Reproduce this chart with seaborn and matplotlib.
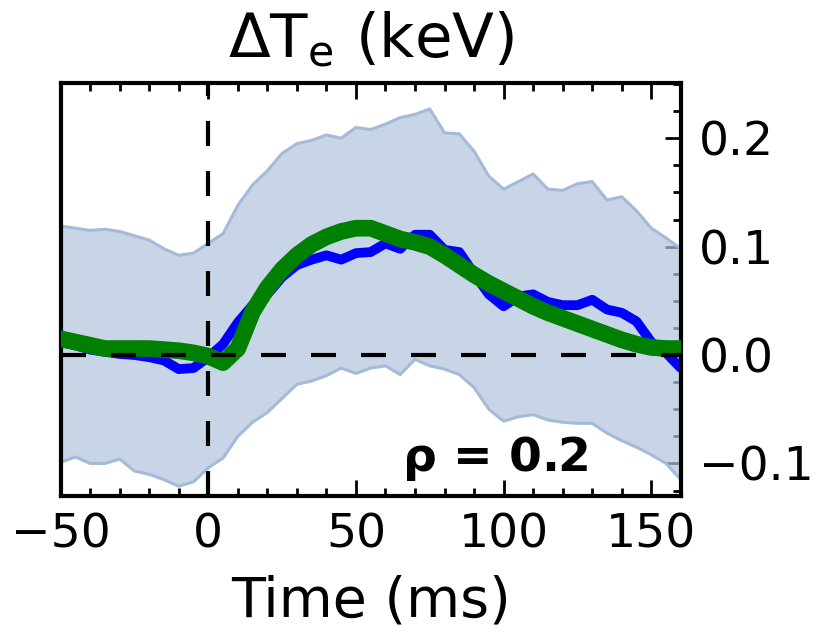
import matplotlib
matplotlib.use("Agg")
import matplotlib.pyplot as plt
from matplotlib.ticker import MultipleLocator
import numpy as np
import pandas as pd
import seaborn as sns

# ---- data ----
time_ms = [-50, -45, -40, -35, -30, -25, -20, -15, -10, -5, 0, 5, 10, 15, 20, 25, 30, 35,
           40, 45, 50, 55, 60, 65, 70, 75, 80, 85, 90, 95, 100, 105, 110, 115, 120, 125,
           130, 135, 140, 145, 150, 155, 160]
band_upper = [0.119, 0.117, 0.115, 0.116, 0.114, 0.110, 0.106, 0.098, 0.092, 0.094, 0.103,
              0.112, 0.138, 0.157, 0.170, 0.186, 0.195, 0.198, 0.203, 0.200, 0.210, 0.208,
              0.213, 0.219, 0.222, 0.227, 0.205, 0.204, 0.188, 0.165, 0.153, 0.160, 0.167,
              0.153, 0.152, 0.158, 0.160, 0.143, 0.146, 0.133, 0.117, 0.108, 0.098]
band_lower = [-0.099, -0.094, -0.100, -0.100, -0.096, -0.107, -0.110, -0.115, -0.121, -0.117,
              -0.104, -0.095, -0.075, -0.062, -0.053, -0.040, -0.027, -0.024, -0.019, -0.012,
              -0.017, -0.012, -0.010, -0.018, -0.004, -0.010, -0.013, -0.018, -0.030, -0.050,
              -0.061, -0.057, -0.055, -0.060, -0.062, -0.063, -0.063, -0.072, -0.079, -0.085,
              -0.092, -0.100, -0.115]
mean_dTe = [0.012, 0.009, 0.005, 0.003, 0.001, 0.000, -0.002, -0.005, -0.013, -0.012, -0.002,
            0.010, 0.030, 0.046, 0.056, 0.072, 0.083, 0.088, 0.092, 0.088, 0.094, 0.095,
            0.103, 0.098, 0.111, 0.111, 0.097, 0.095, 0.075, 0.056, 0.045, 0.054, 0.056,
            0.049, 0.046, 0.046, 0.051, 0.042, 0.039, 0.031, 0.012, 0.002, -0.012]
fit_dTe = [0.015, 0.012, 0.009, 0.006, 0.006, 0.006, 0.006, 0.005, 0.004, 0.002, -0.001,
           -0.007, 0.006, 0.040, 0.062, 0.079, 0.092, 0.102, 0.109, 0.114, 0.117, 0.117,
           0.112, 0.107, 0.104, 0.100, 0.092, 0.083, 0.074, 0.066, 0.059, 0.052, 0.045,
           0.039, 0.034, 0.029, 0.024, 0.019, 0.014, 0.010, 0.007, 0.006, 0.006]
x_ticks = [-50, 0, 50, 100, 150]
y_ticks = [-0.1, 0.0, 0.1, 0.2]
rho_text = r"$\mathbf{\rho}$ = 0.2"

df = pd.DataFrame({"t": time_ms, "mean": mean_dTe, "fit": fit_dTe,
                   "lo": band_lower, "hi": band_upper})

sns.set_theme(style="white")
plt.rcParams["font.family"] = ["DejaVu Sans"]
plt.rcParams["mathtext.default"] = "regular"
plt.rcParams["mathtext.fontset"] = "dejavusans"
plt.rcParams["text.color"] = "black"
plt.rcParams["axes.labelcolor"] = "black"
plt.rcParams["xtick.color"] = "black"
plt.rcParams["ytick.color"] = "black"

fig = plt.figure(figsize=(8.17, 6.37), dpi=100)
ax = fig.add_axes([0.0742, 0.2214, 0.7591, 0.6484])

ax.fill_between(df["t"], df["lo"], df["hi"], color="#b0c4de", alpha=0.7, lw=0, zorder=1)
ax.plot(df["t"], df["hi"], color="#a5b9d9", lw=2.2, zorder=1.5)
ax.plot(df["t"], df["lo"], color="#a5b9d9", lw=2.2, zorder=1.5)
sns.lineplot(data=df, x="t", y="mean", color="#0000ff", lw=7, ax=ax, zorder=2)
sns.lineplot(data=df, x="t", y="fit", color="#008000", lw=12, ax=ax, zorder=3)
ax.axvline(0, color="black", lw=3, ls=(0, (6, 6)), zorder=4)
ax.axhline(0, color="black", lw=3, ls=(0, (6, 6)), zorder=4)

ax.set_xlim(-50, 160)
ax.set_ylim(-0.13, 0.251)
ax.set_xticks(x_ticks)
ax.set_xticklabels([("\u2212" if v < 0 else "") + str(abs(v)) for v in x_ticks])
ax.set_yticks(y_ticks)
ax.set_yticklabels([("\u2212" if v < 0 else "") + f"{abs(v):.1f}" for v in y_ticks])
ax.xaxis.set_minor_locator(MultipleLocator(10))
ax.yaxis.set_minor_locator(MultipleLocator(0.025))

ax.yaxis.tick_right()
ax.tick_params(axis="x", which="both", direction="in", top=True, bottom=True,
               labelsize=34, width=2, colors="black", pad=12)
ax.tick_params(axis="y", which="both", direction="in", left=False, right=True,
               labelleft=False, labelright=True, labelsize=34, width=2,
               colors="black", pad=13)
ax.tick_params(which="major", length=11.5)
ax.tick_params(which="minor", length=5.8)

for s in ax.spines.values():
    s.set_linewidth(3)
    s.set_color("black")
    s.set_visible(True)

ax.set_title(r"$\Delta T_e$ (keV)", fontsize=44, pad=18, color="black")
ax.set_xlabel("Time (ms)", fontsize=40, labelpad=12, color="black")
ax.set_ylabel("")
ax.text(0.70, 0.06, rho_text, transform=ax.transAxes, ha="center", va="baseline",
        fontsize=34, fontweight="bold", color="black")

fig.savefig("out.png", dpi=100)
